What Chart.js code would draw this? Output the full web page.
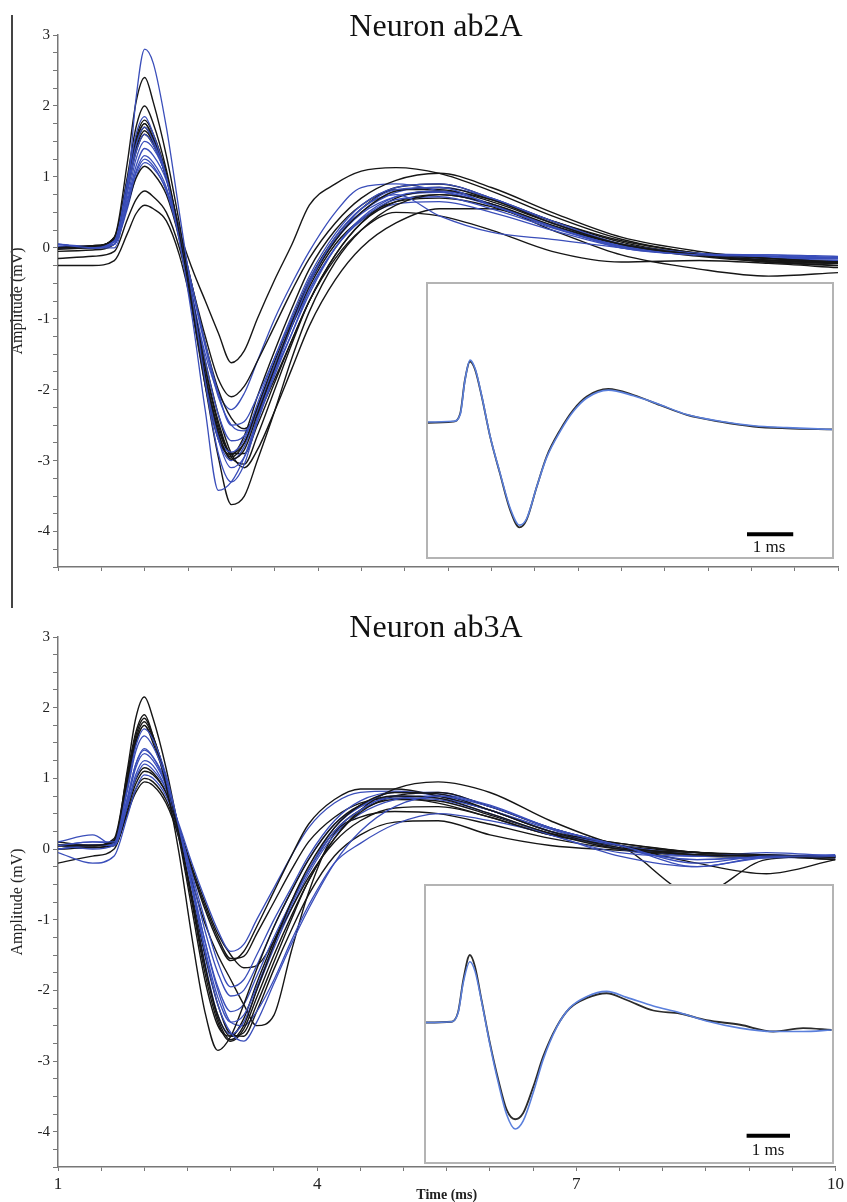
<!DOCTYPE html>
<html><head><meta charset="utf-8">
<script src="https://cdn.jsdelivr.net/npm/chart.js@4.4.1/dist/chart.umd.min.js"></script>
<style>
html,body{margin:0;padding:0;background:#fff;overflow:hidden;width:847px;height:1202px;}
#wrap{position:relative;width:847px;height:1202px;overflow:hidden;}
canvas{position:absolute;display:block;}
.inset{position:absolute;box-sizing:border-box;border:2px solid #b4b4b4;background:#fff;}
.txt{position:absolute;font-family:'Liberation Serif','Times New Roman',serif;color:#111;white-space:nowrap;transform:translateX(-50%);}
</style></head>
<body><div id="wrap">
<canvas id="mainTop" width="847" height="600" style="left:0;top:0"></canvas>
<canvas id="mainBottom" width="847" height="604" style="left:0;top:600px"></canvas>
<div style="position:absolute;left:11px;top:15px;width:1.5px;height:593px;background:#444"></div>
<div class="txt" style="left:436px;top:9px;font-size:32px;line-height:32px">Neuron ab2A</div>
<div class="txt" style="left:436px;top:610px;font-size:32px;line-height:32px">Neuron ab3A</div>
<div class="inset" style="left:426px;top:282px;width:408px;height:277px"><canvas id="insetTop" width="404" height="273" style="left:0;top:0"></canvas></div>
<div class="inset" style="left:424px;top:884px;width:410px;height:280px"><canvas id="insetBottom" width="406" height="276" style="left:0;top:0"></canvas></div>
<div class="txt" style="left:769px;top:538px;font-size:17px;line-height:17px">1 ms</div>
<div class="txt" style="left:768px;top:1141px;font-size:17px;line-height:17px">1 ms</div>
</div>
<script>
// ---------- data ----------
const xTickLabels = [1, 4, 7, 10];
const yTickLabels = [3, 2, 1, 0, -1, -2, -3, -4];
const timeGrid = [1.0, 1.4, 1.65, 1.8, 1.9, 2.0, 2.1, 2.25, 2.4, 2.55, 2.7, 2.85, 3.0, 3.15, 3.3, 3.5, 3.7, 3.9, 4.2, 4.5, 4.9, 5.4, 6.0, 6.7, 7.5, 8.4, 9.2, 10.0];

const ab2A_black = [
 [0.0, 0.02, 0.15, 1.2, 2.05, 2.4, 2.05, 1.3, 0.35, -0.75, -1.8, -2.6, -2.98, -2.85, -2.35, -1.7, -1.05, -0.5, 0.1, 0.5, 0.8, 0.85, 0.68, 0.35, 0.05, -0.1, -0.18, -0.22],
 [0.0, 0.03, 0.12, 1.0, 1.7, 2.0, 1.75, 1.1, 0.2, -0.85, -1.95, -2.95, -3.62, -3.5, -3.0, -2.3, -1.55, -0.9, -0.2, 0.25, 0.6, 0.75, 0.62, 0.32, 0.05, -0.1, -0.17, -0.2],
 [0.0, 0.02, 0.12, 0.95, 1.55, 1.8, 1.6, 1.05, 0.25, -0.3, -0.75, -1.2, -1.62, -1.45, -1.0, -0.45, 0.05, 0.6, 0.9, 1.08, 1.13, 1.05, 0.8, 0.45, 0.12, -0.08, -0.15, -0.2],
 [0.0, 0.02, 0.1, 0.9, 1.5, 1.75, 1.55, 1.0, 0.2, -0.55, -1.25, -1.85, -2.1, -1.95, -1.6, -1.1, -0.6, -0.15, 0.35, 0.7, 0.95, 1.05, 0.85, 0.5, 0.15, -0.05, -0.15, -0.2],
 [0.0, 0.03, 0.12, 0.9, 1.45, 1.7, 1.5, 1.0, 0.2, -0.8, -1.85, -2.65, -2.95, -2.75, -2.25, -1.6, -1.0, -0.45, 0.15, 0.55, 0.85, 0.9, 0.7, 0.38, 0.08, -0.1, -0.18, -0.22],
 [-0.02, 0.0, 0.1, 0.85, 1.4, 1.65, 1.48, 1.0, 0.22, -0.7, -1.7, -2.5, -2.95, -3.05, -2.65, -2.0, -1.35, -0.75, -0.1, 0.35, 0.7, 0.8, 0.68, 0.38, 0.1, -0.08, -0.2, -0.25],
 [0.0, 0.02, 0.1, 0.8, 1.35, 1.6, 1.45, 1.0, 0.25, -0.55, -1.35, -2.0, -2.4, -2.55, -2.35, -1.85, -1.3, -0.75, -0.1, 0.35, 0.65, 0.75, 0.62, 0.3, 0.05, -0.1, -0.2, -0.22],
 [-0.05, -0.03, 0.05, 0.6, 0.98, 1.15, 1.05, 0.75, 0.12, -0.8, -1.8, -2.55, -2.9, -2.75, -2.3, -1.7, -1.1, -0.55, 0.05, 0.4, 0.65, 0.7, 0.58, 0.3, 0.02, -0.12, -0.2, -0.25],
 [-0.15, -0.12, -0.05, 0.4, 0.68, 0.8, 0.72, 0.5, 0.0, -0.75, -1.6, -2.35, -2.9, -3.1, -2.85, -2.3, -1.7, -1.1, -0.45, 0.0, 0.35, 0.55, 0.55, 0.25, -0.1, -0.3, -0.4, -0.35],
 [-0.25, -0.25, -0.18, 0.2, 0.48, 0.6, 0.55, 0.38, -0.1, -0.85, -1.7, -2.45, -2.9, -2.9, -2.5, -1.9, -1.3, -0.75, -0.15, 0.25, 0.5, 0.45, 0.25, -0.05, -0.2, -0.18, -0.22, -0.28],
 [0.0, 0.02, 0.15, 0.95, 1.5, 1.75, 1.52, 0.98, 0.15, -0.9, -1.95, -2.7, -2.92, -2.65, -2.1, -1.45, -0.85, -0.3, 0.25, 0.6, 0.82, 0.82, 0.65, 0.35, 0.05, -0.1, -0.18, -0.2]
];
const ab2A_blue = [
 [0.05, 0.0, 0.0, 0.8, 2.1, 2.8, 2.6, 1.7, 0.5, -0.7, -1.9, -2.9, -3.3, -3.05, -2.45, -1.75, -1.1, -0.5, 0.15, 0.55, 0.82, 0.85, 0.6, 0.3, 0.0, -0.1, -0.12, -0.15],
 [0.05, 0.0, 0.1, 0.95, 1.6, 1.85, 1.6, 1.0, 0.1, -1.0, -2.3, -3.42, -3.3, -2.95, -2.4, -1.7, -1.05, -0.45, 0.1, 0.55, 0.75, 0.45, 0.22, 0.12, 0.0, -0.1, -0.1, -0.12],
 [0.05, 0.02, 0.1, 0.85, 1.45, 1.7, 1.5, 1.0, 0.25, -0.55, -1.35, -2.05, -2.5, -2.45, -2.1, -1.55, -1.0, -0.5, 0.12, 0.5, 0.78, 0.85, 0.7, 0.35, 0.05, -0.08, -0.12, -0.15],
 [0.0, 0.02, 0.08, 0.8, 1.35, 1.6, 1.45, 1.0, 0.2, -0.8, -1.85, -2.65, -2.88, -2.7, -2.2, -1.55, -0.95, -0.4, 0.2, 0.6, 0.85, 0.9, 0.7, 0.38, 0.05, -0.1, -0.12, -0.15],
 [0.02, 0.0, 0.05, 0.7, 1.25, 1.5, 1.4, 1.0, 0.25, -0.75, -1.8, -2.7, -3.1, -2.95, -2.45, -1.8, -1.2, -0.6, 0.0, 0.4, 0.68, 0.72, 0.55, 0.28, 0.02, -0.1, -0.15, -0.15],
 [0.0, 0.02, 0.05, 0.65, 1.15, 1.4, 1.3, 0.95, 0.25, -0.6, -1.4, -2.1, -2.5, -2.58, -2.3, -1.75, -1.2, -0.65, 0.0, 0.42, 0.72, 0.8, 0.62, 0.3, 0.03, -0.1, -0.12, -0.15],
 [0.0, 0.0, 0.05, 0.6, 1.08, 1.3, 1.2, 0.85, 0.15, -0.85, -1.9, -2.7, -3.0, -2.8, -2.3, -1.65, -1.05, -0.5, 0.1, 0.48, 0.72, 0.78, 0.6, 0.3, 0.02, -0.1, -0.14, -0.16],
 [0.02, 0.0, 0.05, 0.6, 1.05, 1.25, 1.15, 0.8, 0.15, -0.7, -1.5, -2.05, -2.28, -2.05, -1.6, -1.0, -0.5, -0.05, 0.5, 0.85, 0.9, 0.8, 0.6, 0.3, 0.05, -0.08, -0.1, -0.14],
 [0.02, 0.0, 0.05, 0.55, 1.0, 1.2, 1.12, 0.82, 0.2, -0.7, -1.6, -2.35, -2.72, -2.65, -2.25, -1.65, -1.1, -0.6, 0.0, 0.38, 0.62, 0.65, 0.5, 0.25, 0.0, -0.1, -0.15, -0.18]
];
const ab3A_black = [
 [0.05, 0.05, 0.1, 1.1, 1.85, 2.15, 1.85, 1.15, 0.25, -0.7, -1.65, -2.4, -2.7, -2.5, -2.0, -1.35, -0.75, -0.25, 0.3, 0.62, 0.8, 0.78, 0.55, 0.25, 0.02, -0.05, -0.08, -0.12],
 [0.05, 0.05, 0.15, 1.05, 1.65, 1.9, 1.6, 0.9, -0.05, -1.25, -2.3, -2.85, -2.65, -2.2, -1.7, -1.1, -0.6, -0.15, 0.35, 0.62, 0.75, 0.72, 0.5, 0.22, 0.0, -0.08, -0.1, -0.15],
 [0.05, 0.05, 0.12, 1.0, 1.6, 1.85, 1.6, 1.0, 0.2, -0.75, -1.75, -2.45, -2.72, -2.55, -2.1, -1.5, -0.95, -0.45, 0.15, 0.55, 0.85, 0.95, 0.8, 0.4, 0.05, -0.08, -0.1, -0.15],
 [0.05, 0.05, 0.12, 0.95, 1.55, 1.8, 1.58, 1.0, 0.22, -0.7, -1.65, -2.35, -2.65, -2.6, -2.2, -1.6, -1.0, -0.45, 0.15, 0.52, 0.75, 0.8, 0.6, 0.3, 0.05, -0.2, -0.35, -0.15],
 [0.05, 0.05, 0.1, 0.9, 1.5, 1.75, 1.55, 1.0, 0.3, -0.3, -0.85, -1.3, -1.58, -1.45, -1.1, -0.6, -0.1, 0.35, 0.7, 0.85, 0.85, 0.75, 0.55, 0.25, 0.08, -0.05, -0.1, -0.1],
 [0.0, 0.05, 0.08, 0.6, 0.98, 1.15, 1.08, 0.8, 0.25, -0.3, -0.8, -1.25, -1.55, -1.52, -1.2, -0.75, -0.3, 0.1, 0.45, 0.65, 0.72, 0.65, 0.45, 0.2, 0.05, -0.05, -0.1, -0.12],
 [0.0, 0.02, 0.05, 0.55, 0.92, 1.1, 1.05, 0.8, 0.3, -0.25, -0.75, -1.2, -1.5, -1.68, -1.65, -1.3, -0.85, -0.4, 0.1, 0.4, 0.58, 0.6, 0.45, 0.2, 0.08, -0.05, -0.1, -0.12],
 [-0.2, -0.1, 0.0, 0.5, 0.85, 1.0, 0.95, 0.7, 0.2, -0.45, -1.05, -1.5, -1.85, -2.2, -2.5, -2.35, -1.45, -0.62, 0.22, 0.45, 0.53, 0.5, 0.35, 0.15, 0.0, -0.05, -0.1, -0.12],
 [0.1, 0.05, 0.05, 0.5, 0.8, 0.95, 0.9, 0.65, 0.15, -0.65, -1.5, -2.2, -2.62, -2.65, -2.3, -1.7, -1.15, -0.65, -0.1, 0.2, 0.38, 0.4, 0.2, 0.05, -0.02, -0.1, -0.12, -0.1],
 [0.0, 0.02, 0.1, 0.9, 1.5, 1.75, 1.5, 0.95, 0.15, -0.85, -1.85, -2.5, -2.65, -2.4, -1.9, -1.3, -0.75, -0.3, 0.25, 0.55, 0.7, 0.68, 0.48, 0.22, 0.05, -0.65, -0.15, -0.1]
];
const ab3A_blue = [
 [0.05, 0.1, 0.1, 0.85, 1.45, 1.7, 1.55, 1.05, 0.3, -0.55, -1.45, -2.2, -2.6, -2.72, -2.45, -1.9, -1.35, -0.85, -0.2, 0.25, 0.6, 0.75, 0.6, 0.3, 0.05, -0.2, -0.1, -0.1],
 [0.05, 0.05, 0.08, 0.8, 1.38, 1.6, 1.45, 1.0, 0.3, -0.55, -1.4, -2.1, -2.45, -2.35, -1.95, -1.35, -0.8, -0.3, 0.3, 0.6, 0.8, 0.78, 0.62, 0.3, 0.05, -0.25, -0.12, -0.1],
 [0.0, 0.05, 0.05, 0.7, 1.2, 1.4, 1.3, 0.95, 0.3, -0.5, -1.3, -1.95, -2.3, -2.2, -1.8, -1.25, -0.75, -0.3, 0.25, 0.55, 0.75, 0.72, 0.55, 0.25, 0.0, -0.15, -0.12, -0.1],
 [0.1, 0.2, 0.05, 0.65, 1.15, 1.35, 1.25, 0.9, 0.32, -0.4, -1.15, -1.75, -2.08, -2.0, -1.65, -1.1, -0.6, -0.15, 0.35, 0.6, 0.72, 0.7, 0.5, 0.2, -0.05, -0.1, -0.05, -0.1],
 [0.05, 0.0, 0.05, 0.6, 1.05, 1.25, 1.18, 0.85, 0.3, -0.35, -1.0, -1.6, -1.95, -1.85, -1.5, -1.0, -0.55, -0.1, 0.4, 0.68, 0.8, 0.8, 0.6, 0.3, 0.05, -0.1, -0.08, -0.12],
 [0.0, 0.05, 0.05, 0.6, 1.0, 1.2, 1.12, 0.85, 0.35, -0.2, -0.7, -1.15, -1.45, -1.35, -1.0, -0.55, -0.1, 0.3, 0.65, 0.8, 0.82, 0.75, 0.55, 0.25, 0.05, -0.08, -0.1, -0.12],
 [-0.05, -0.2, -0.1, 0.45, 0.85, 1.05, 1.0, 0.75, 0.25, -0.5, -1.3, -2.0, -2.45, -2.5, -2.3, -1.85, -1.3, -0.8, -0.2, 0.08, 0.35, 0.5, 0.4, 0.2, -0.1, -0.25, -0.12, -0.12],
 [0.05, 0.1, 0.08, 0.7, 1.2, 1.42, 1.3, 0.9, 0.2, -0.7, -1.6, -2.35, -2.62, -2.45, -2.0, -1.4, -0.85, -0.35, 0.2, 0.5, 0.7, 0.75, 0.55, 0.28, 0.02, -0.15, -0.1, -0.08]
];

// inset (average waveforms)
const insetTopTimes = [1.0, 1.56, 1.71, 1.81, 1.92, 2.03, 2.17, 2.35, 2.56, 2.78, 2.98, 3.13, 3.35, 3.56, 3.85, 4.13, 4.42, 4.88, 5.42, 5.99, 6.56, 7.27, 7.99, 8.70, 9.70];
const insetTopBlack = [-0.02, 0.01, 0.23, 1.12, 1.61, 1.39, 0.68, -0.39, -1.37, -2.35, -2.81, -2.61, -1.72, -0.92, -0.21, 0.32, 0.68, 0.88, 0.72, 0.45, 0.19, 0.01, -0.12, -0.17, -0.2];
const insetTopBlue  = [0.0, 0.02, 0.2, 1.1, 1.65, 1.42, 0.7, -0.38, -1.35, -2.3, -2.75, -2.58, -1.72, -0.95, -0.25, 0.28, 0.64, 0.85, 0.7, 0.46, 0.2, 0.02, -0.1, -0.15, -0.2];
const insetBottomTimes = [1.0, 1.57, 1.71, 1.82, 1.96, 2.07, 2.21, 2.39, 2.57, 2.75, 2.93, 3.10, 3.32, 3.53, 3.82, 4.10, 4.46, 4.89, 5.32, 5.89, 6.46, 7.03, 7.75, 8.46, 9.10, 9.71];
const insetBottomBlack = [0.01, 0.03, 0.30, 1.15, 1.81, 1.50, 0.61, -0.54, -1.52, -2.32, -2.57, -2.41, -1.70, -0.90, -0.10, 0.39, 0.66, 0.79, 0.61, 0.33, 0.25, 0.07, -0.05, -0.23, -0.14, -0.19];
const insetBottomBlue  = [0.01, 0.03, 0.28, 1.08, 1.63, 1.38, 0.58, -0.58, -1.60, -2.45, -2.83, -2.62, -1.85, -0.98, -0.12, 0.40, 0.70, 0.84, 0.68, 0.45, 0.27, 0.05, -0.14, -0.23, -0.23, -0.19];
const scaleBarTopX = [7.85, 8.84];
const scaleBarTopY = [-2.99, -2.99];
const scaleBarBottomX = [7.89, 8.82];
const scaleBarBottomY = [-3.01, -3.01];

// ---------- drawing ----------
const SERIF = "'Liberation Serif','Times New Roman',serif";
const BLACK = '#161616', BLUE = '#3a4eba';

function toXY(times, vals){ return vals.map((v,i)=>({x:times[i], y:v})); }
function trace(times, vals, color, w){
  return {data: toXY(times, vals), borderColor: color, borderWidth: w, pointRadius: 0,
          fill: false, cubicInterpolationMode: 'monotone'};
}
function mainDatasets(blacks, blues){
  const ds = [];
  const n = Math.max(blacks.length, blues.length);
  for (let i = 0; i < n; i++){
    if (blues[i]) ds.push(trace(timeGrid, blues[i], BLUE, 1.3));
    if (blacks[i]) ds.push(trace(timeGrid, blacks[i], BLACK, 1.4));
  }
  return ds;
}
function mainOptions(showX, padTop, xH){
  return {
    responsive: false, animation: false, devicePixelRatio: 1, events: [],
    layout: {padding: {left: 0, right: 9, top: padTop, bottom: 0}},
    plugins: {legend: {display: false}, tooltip: {enabled: false}, title: {display: false}},
    scales: {
      x: {type: 'linear', min: 1, max: 10,
        ticks: {stepSize: 0.5, autoSkip: false, maxRotation: 0, minRotation: 0, padding: 3, color: '#222',
          font: {family: SERIF, size: 17},
          callback: (v) => (showX && xTickLabels.includes(v)) ? String(v) : ''},
        grid: {drawOnChartArea: false, drawTicks: true, tickLength: 4, color: '#777', tickWidth: 1},
        border: {display: true, color: '#777', width: 1.5},
        title: {display: showX, text: 'Time (ms)', color: '#222',
          font: {family: SERIF, size: 14, weight: 'bold'}, padding: {top: 0, bottom: 0}},
        afterFit: (s) => { s.height = xH; }
      },
      y: {type: 'linear', min: -4.5, max: 3,
        ticks: {stepSize: 0.25, autoSkip: false, padding: 3, color: '#222',
          font: {family: SERIF, size: 15},
          callback: (v) => yTickLabels.includes(v) ? String(v) : ''},
        grid: {drawOnChartArea: false, drawTicks: true, tickLength: 5, color: '#777', tickWidth: 1},
        border: {display: true, color: '#777', width: 1.5},
        title: {display: true, text: 'Amplitude (mV)', color: '#222',
          font: {family: SERIF, size: 16}, padding: {top: 8, bottom: 0}},
        afterFit: (s) => { s.width = 58; }
      }
    }
  };
}
function insetChart(id, times, black, blue, barX, barY, ymin, ymax, xmin, xmax){
  new Chart(document.getElementById(id), {
    type: 'line',
    data: {datasets: [
      trace(times, blue, '#5a7fdc', 1.6),
      trace(times, black, '#2b2b2b', 1.8),
      {data: toXY(barX, barY), borderColor: '#000', borderWidth: 4, borderCapStyle: 'butt', pointRadius: 0, fill: false}
    ]},
    options: {
      responsive: false, animation: false, devicePixelRatio: 1, events: [],
      layout: {padding: 0},
      plugins: {legend: {display: false}, tooltip: {enabled: false}},
      scales: {
        x: {type: 'linear', min: xmin, max: xmax, display: false},
        y: {type: 'linear', min: ymin, max: ymax, display: false}
      }
    }
  });
}

new Chart(document.getElementById('mainTop'), {
  type: 'line', data: {datasets: mainDatasets(ab2A_black, ab2A_blue)},
  options: mainOptions(false, 35, 33)
});
new Chart(document.getElementById('mainBottom'), {
  type: 'line', data: {datasets: mainDatasets(ab3A_black, ab3A_blue)},
  options: mainOptions(true, 37, 37)
});
insetChart('insetTop', insetTopTimes, insetTopBlack, insetTopBlue, scaleBarTopX, scaleBarTopY, -3.6, 3.68, 1.02, 9.67);
insetChart('insetBottom', insetBottomTimes, insetBottomBlack, insetBottomBlue, scaleBarBottomX, scaleBarBottomY, -3.71, 3.65, 1.02, 9.72);
</script>
</body></html>
